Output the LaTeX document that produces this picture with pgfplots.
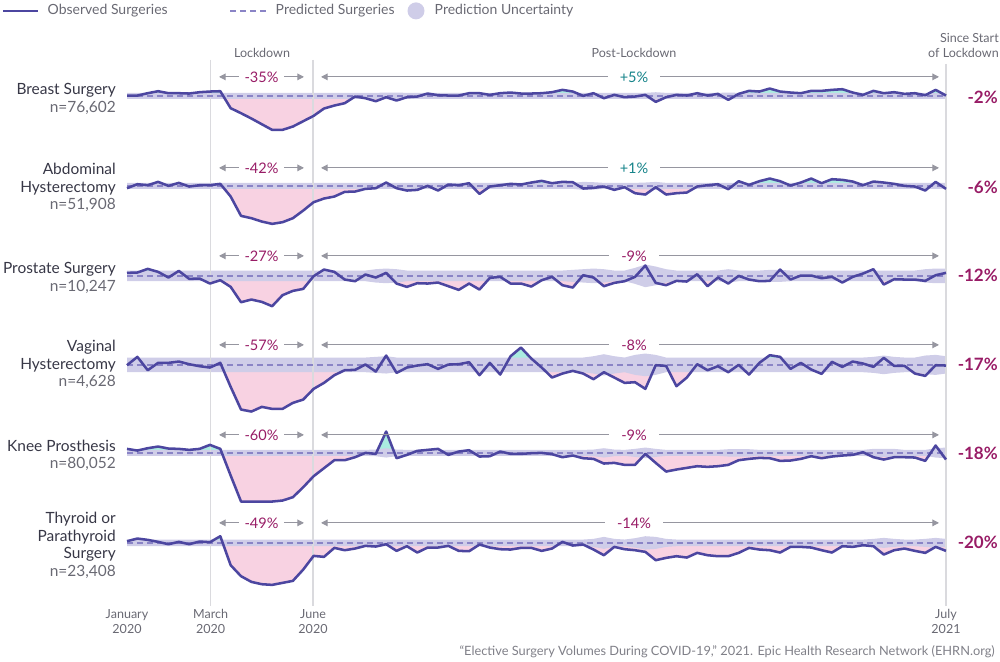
\documentclass[border=0pt]{standalone}
\usepackage{pgfplots}
\pgfplotsset{compat=1.18}
\usepackage{pgfplotstable}
\usepgfplotslibrary{fillbetween}
\usetikzlibrary{arrows.meta}
\usepackage{fontspec}
\setmainfont{Lato}

\definecolor{obsline}{RGB}{76,70,160}
\definecolor{predline}{RGB}{138,132,198}
\definecolor{bandc}{RGB}{207,205,232}
\definecolor{pinkc}{RGB}{248,210,226}
\definecolor{cyanc}{RGB}{170,236,224}
\definecolor{magc}{RGB}{152,28,102}
\definecolor{tealc}{RGB}{22,132,138}
\definecolor{gridc}{RGB}{218,218,222}
\definecolor{arrowc}{RGB}{150,150,160}
\definecolor{labdark}{RGB}{55,55,70}
\definecolor{labgrey}{RGB}{105,105,115}

% Weekly volume, % deviation from the predicted level (a..f), and half-width of the uncertainty band (wa..wf)
\pgfplotstableread{
i  a     wa  b     wb  c     wc  d     wd  e     we  f     wf
0  0.5   4.5 -3.5  4.5 4.5   8   -0.5  11  6     4.5 2.5   5
1  0.5   4.5 2.5   4.5 5     8   12    11  3.5   4.5 6.5   5
2  4     4.5 1     4.5 10.5  8   -8    11  7     4.5 4.5   5
3  7     4.5 6     4.5 6     8   3     11  9.5   4.5 1.5   5
4  4     4.5 0     4.5 -2.5  8   3     11  6.5   4.5 -2    5
5  4     4.5 4.5   4.5 7.5   8   5     11  6     4.5 1.5   5
6  3.5   4.5 -1    4.5 -4.5  8   1     11  4.5   4.5 -2    5
7  5.5   4.5 1     4.5 -4    8   -2    11  6     4.5 2     5
8  6.5   4.5 1     4.5 -11.5 8   -4    11  12    4.5 1     5
9  7     4.5 3     4.5 -6.5  8   3     11  6     4.5 10    5
10 -18.5 4.5 -16   4.5 -16.5 8   -33   11  -34   4.5 -33.5 5
11 -26   4.5 -45   4.5 -39.5 8   -67   11  -73   4.5 -50   5
12 -34   4.5 -48.5 4.5 -35.5 8   -70   11  -73   4.5 -58.5 5
13 -42.5 4.5 -53.5 4.5 -39   8   -63   11  -73   4.5 -62   5
14 -51   4.5 -57   4.5 -45.5 8   -66   11  -73   4.5 -63   5
15 -51   4.5 -54.5 4.5 -29   8   -66   11  -71.5 4.5 -60   5
16 -46   4.5 -48.5 4.5 -22.5 8   -57   11  -66.5 4.5 -57   5
17 -38   4.5 -37   4.5 -19.5 8   -52   11  -51.5 4.5 -40   5
18 -30   4.5 -24.5 4.5 -0.5  8   -36   11  -35   4.5 -19.5 5
19 -19   4.5 -19   4.5 9.5   8   -27   11  -23   4.5 -21   5
20 -14.5 4.5 -16   4.5 6     8   -15.5 11  -11   4.5 -7.5  5
21 -11   4.5 -9    4.5 -5.5  8   -8    11  -11   4.5 -11   5
22 -1    4.5 -8.5  4.5 -8    8   -7.5  11  -6.5  4.5 -8.5  5
23 -3.5  4.5 -4.5  4.5 2     8   0.5   11  0     4.5 -4.5  5
24 -8    4.5 -3.5  4.5 -2.5  10  -10   12  -1.5  5   -5.5  5
25 -2    5   5     4.5 4.5   11  14    13  32    7   -2    5
26 -7    5   -3.5  4.5 -11.5 10  -12   11  -8    5   -12   5
27 -2    4.5 -7    4.5 -16.5 8   -4    11  -3    4.5 -5    5
28 -1    4.5 -6    4.5 -11   8   -1    11  3     4.5 -14.5 5
29 3.5   4.5 0     4.5 -11.5 8   1     11  4.5   4.5 -7    5
30 1     4.5 -7    4.5 -10   8   -6    11  6     4.5 -7    5
31 0.5   4.5 2     4.5 -15.5 8   0.5   11  -3    4.5 -4.5  5
32 0.5   4.5 1     4.5 -21   8   1     11  2     4.5 -12   5
33 4     4.5 4     4.5 -11.5 8   4     11  4     4.5 -12.5 5
34 4     4.5 -12   4.5 -20.5 8   -15.5 11  -5.5  4.5 -2.5  5
35 1.5   4.5 -1    4.5 -3    8   3     11  -5    4.5 -7    5
36 4     4.5 1     4.5 -1.5  8   -14.5 11  2     4.5 -9.5  5
37 5     4.5 3     4.5 -11.5 8   13    11  -1.5  4.5 -10   5
38 3.5   4.5 2     4.5 -11.5 8   26    11  -1.5  4.5 -7.5  5
39 3.5   4.5 5     4.5 -16   8   9.5   11  -0.5  4.5 -7.5  5
40 4     4.5 7.5   4.5 -6.5  8   -4    11  0     4.5 -12   5
41 5.5   4.5 4     4.5 -1.5  8   -19   11  -2    4.5 -8.5  5
42 9     4.5 6     4.5 -14   8   -13   11  -6.5  4.5 1.5   5
43 6.5   4.5 5.5   4.5 -17.5 9   -9    11  -4    4.5 -4    5
44 0     4.5 -4    6   1     10  -13   11  -8    4.5 -2.5  5
45 4     4.5 -3    5.5 -2.5  11  -21.5 13  -9    5   -10   6
46 -3.5  4.5 -1    4.5 -15.5 10  -11   16  -16   7   -18.5 9
47 1.5   4.5 -6    4.5 -10.5 8   -19   13  -15   5   -6    6
48 -2    4.5 -2    4.5 -8    8   -27   11  -18   4.5 -9.5  5
49 -1    4.5 -11   4.5 -1.5  12  -26   15  -18   6   -11   7
50 1.5   4.5 -13   5   15.5  17  -36   17  -1.5  8   -13.5 10
51 -9    5.5 -2    6   -10.5 14  -0.5  15  -15   6   -26   9
52 -2    4.5 -13   4.5 -14   10  -1.5  11  -28   4.5 -22.5 6
53 1.5   4.5 -11   4.5 -7.5  8   -32   11  -25   4.5 -20   5
54 0.5   4.5 -10   4.5 -8.5  8   -19   11  -22.5 4.5 -22   5
55 4     4.5 -1    4.5 2.5   8   1     11  -20   4.5 -15   5
56 0.5   4.5 1     4.5 -15.5 8   -8    11  -21   4.5 -18.5 5
57 3     4.5 2.5   4.5 -2.5  8   -2    11  -20   4.5 -20   5
58 -6    5   -5    4.5 -11.5 10  -11   11  -18   5.5 -20   5
59 3     4.5 7     4.5 0     8   0     11  -11   5.5 -15   5
60 7.5   4.5 1.5   4.5 -5.5  8   -14.5 11  -9    5.5 -7.5  5
61 6.5   4.5 7     4.5 -8    8   3     11  -7.5  4.5 -10   5
62 11    4.5 11    4.5 -7.5  9   14.5  11  -8    4.5 -11   5
63 6.5   4.5 7     4.5 9.5   9   12    11  -12   4.5 -14.5 5
64 5     4.5 0.5   4.5 -5.5  8   -6    11  -11.5 4.5 -6    5
65 4     4.5 5     4.5 0.5   8   3     11  -9    4.5 -6    5
66 7.5   4.5 11    4.5 0.5   8   -7    11  -5    4.5 -7    5
67 7.5   4.5 4     4.5 -3.5  8   -13.5 11  -8    4.5 -11   5
68 9     4.5 10    4.5 -1.5  8   4.5   11  -5.5  4.5 -14.5 5
69 10    4.5 9     4.5 -10   8   -3    11  -4    4.5 -5    5
70 5     4.5 6.5   4.5 -1.5  8   5     11  -3    4.5 -6    5
71 1.5   4.5 1     4.5 3.5   8   2     11  1     4.5 -3.5  5
72 7.5   4.5 6.5   4.5 10    8   -3    12  -6.5  6   -5    6
73 4     4.5 5     4.5 -13   8   10.5  14  -10   6   -17.5 7.5
74 5.5   4.5 3     4.5 -5    8   -1.5  12  -6.5  6   -11   6
75 3     4.5 0     4.5 -5.5  8   -1.5  11  -6.5  4.5 -8.5  5
76 4     4.5 -1    4.5 -5.5  8   -13   11  -7    4.5 -12   5
77 1     4.5 -7    4.5 -7.5  10  -16.5 14  -12   4.5 -15   6
78 9     4.5 6     4.5 1     11  -0.5  15  11    7   -6    7.5
79 0.5   4.5 -4.5  4.5 4.5   11  -1    13  -10   8   -12   6
}\vol

\pgfplotsset{
  rowaxis/.style={anchor=south west, scale only axis, width=614.25pt, height=60pt,
    xmin=0, xmax=79, ymin=-80, ymax=40, axis lines=none, xtick=\empty, ytick=\empty, clip=false}
}

% one row: #1 = y of the lower left corner, #2 = observed column, #3 = band column
% shortfall (pink) and surplus (cyan) are drawn in half-height axes whose box clips them at the predicted level
\newcommand{\surgrow}[3]{%
\begin{axis}[rowaxis, at={(95.25pt,#1)}, ymax=0, height=40pt, clip=true]
  \addplot[name path=obsP#2, draw=none] table[x=i, y=#2] {\vol};
  \addplot[name path=zeroP#2, draw=none] coordinates {(0,0) (79,0)};
  \addplot[pinkc] fill between[of=obsP#2 and zeroP#2];
\end{axis}
\begin{axis}[rowaxis, at={(95.25pt,#1+40pt)}, ymin=0, height=20pt, clip=true]
  \addplot[name path=obsC#2, draw=none] table[x=i, y=#2] {\vol};
  \addplot[name path=zeroC#2, draw=none] coordinates {(0,0) (79,0)};
  \addplot[cyanc] fill between[of=obsC#2 and zeroC#2];
\end{axis}
\begin{axis}[rowaxis, at={(95.25pt,#1)}]
  \addplot[name path=hi#2, draw=none] table[x=i, y expr=\thisrow{#3}] {\vol};
  \addplot[name path=lo#2, draw=none] table[x=i, y expr=-\thisrow{#3}] {\vol};
  \addplot[bandc] fill between[of=hi#2 and lo#2];
  \addplot[predline, line width=1.1pt, dash pattern=on 4.5pt off 3pt] coordinates {(0,0) (79,0)};
  \addplot[obsline, line width=1.9pt, line join=round] table[x=i, y=#2] {\vol};
\end{axis}}

\newcommand{\lblfont}{\fontsize{11.6}{13.1}\selectfont}
\newcommand{\smallfont}{\fontsize{9.4}{11.25}\selectfont}

\begin{document}
\begin{tikzpicture}
\begin{scope}[x=0.75pt, y=-0.75pt]
  \path[use as bounding box] (0,0) rectangle (1000,660);
  \draw[gridc, line width=0.8pt] (210.7,58) -- (210.7,604);
  \draw[gridc, line width=0.8pt] (313,58) -- (313,604);
  \draw[gridc, line width=0.8pt] (946,62) -- (946,604);
\end{scope}

\surgrow{-110.5pt}{a}{wa}
\surgrow{-178pt}{b}{wb}
\surgrow{-245.5pt}{c}{wc}
\surgrow{-312.25pt}{d}{wd}
\surgrow{-378.25pt}{e}{we}
\surgrow{-445.75pt}{f}{wf}

\begin{scope}[x=0.75pt, y=-0.75pt]
  % legend
  \draw[obsline, line width=1.9pt] (3,9) -- (38,9);
  \node[anchor=west, text=labgrey, font=\fontsize{10.5}{12}\selectfont] at (43,9) {Observed Surgeries};
  \draw[predline, line width=1.1pt, dash pattern=on 4.5pt off 3pt] (230,9) -- (266,9);
  \node[anchor=west, text=labgrey, font=\fontsize{10.5}{12}\selectfont] at (271,9) {Predicted Surgeries};
  \fill[bandc] (416,9) circle (8.5);
  \node[anchor=west, text=labgrey, font=\fontsize{10.5}{12}\selectfont] at (430,9) {Prediction Uncertainty};

  % period headers
  \node[text=labgrey, font=\smallfont] at (262,51) {Lockdown};
  \node[text=labgrey, font=\smallfont] at (634,51) {Post-Lockdown};
  \node[anchor=east, align=right, text=labgrey, font=\smallfont, inner sep=0pt] at (999,44) {Since Start\\of Lockdown};

  % row labels
  \foreach \y/\txt in {97/{Breast Surgery\\\textcolor{labgrey}{n=76,602}},
                       185.5/{Abdominal\\Hysterectomy\\\textcolor{labgrey}{n=51,908}},
                       276/{Prostate Surgery\\\textcolor{labgrey}{n=10,247}},
                       362.5/{Vaginal\\Hysterectomy\\\textcolor{labgrey}{n=4,628}},
                       453.5/{Knee Prosthesis\\\textcolor{labgrey}{n=80,052}},
                       543.5/{Thyroid or\\Parathyroid\\Surgery\\\textcolor{labgrey}{n=23,408}}}
    \node[anchor=east, align=right, text=labdark, font=\lblfont, inner sep=0pt] at (116,\y) {\txt};

  % change since start of lockdown
  \foreach \y/\txt in {95/-2, 185/-6, 273/-12, 362/-17, 451/-18, 540/-20}
    \node[anchor=east, text=magc, font=\bfseries\fontsize{12.75}{14}\selectfont, inner sep=0pt] at (998,\y) {\txt\%};

  % period arrows with the change for each period
  \foreach \y/\lk/\pl/\pc in {75/-35/+5/tealc, 166/-42/+1/tealc, 254/-27/-9/magc,
                              343/-57/-8/magc, 433/-60/-9/magc, 521/-49/-14/magc} {
    \draw[arrowc, line width=0.8pt, {Triangle[length=5pt,width=5pt]}-{Triangle[length=5pt,width=5pt]}] (219,\y) -- (304,\y);
    \node[fill=white, text=magc, font=\fontsize{10.9}{12}\selectfont, inner xsep=4.5pt, inner ysep=1pt] at (261.5,\y) {\lk\%};
    \draw[arrowc, line width=0.8pt, {Triangle[length=5pt,width=5pt]}-{Triangle[length=5pt,width=5pt]}] (321,\y) -- (939,\y);
    \node[fill=white, text=\pc, font=\fontsize{10.9}{12}\selectfont, inner xsep=9pt, inner ysep=1pt] at (634,\y) {\pl\%};
  }

  % date labels
  \foreach \x/\txt in {127/{January\\2020}, 210.7/{March\\2020}, 313/{June\\2020}, 946/{July\\2021}}
    \node[anchor=north, align=center, text=labgrey, font=\fontsize{9.4}{11.25}\selectfont, inner sep=0pt] at (\x,607) {\txt};

  % source
  \node[anchor=east, text=labgrey!85, font=\fontsize{9.6}{11}\selectfont, inner sep=0pt] at (995,650)
    {“Elective Surgery Volumes During COVID-19,” 2021. Epic Health Research Network (EHRN.org)};
\end{scope}
\end{tikzpicture}
\end{document}
